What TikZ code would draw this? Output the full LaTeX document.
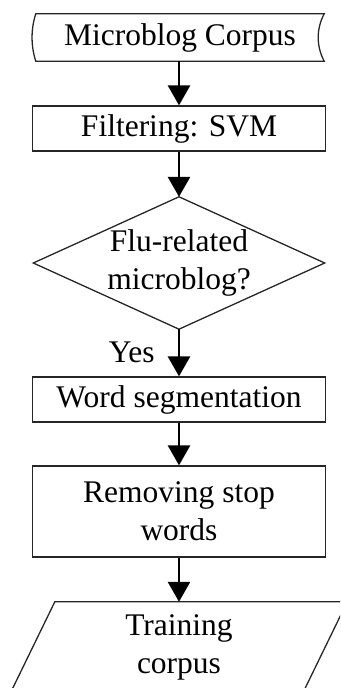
\documentclass[tikz,border=0pt]{standalone}
\usepackage{fontspec}
\setmainfont{Liberation Serif}
\usetikzlibrary{arrows.meta,calc}
\begin{document}
\begin{tikzpicture}[x=1pt,y=-1pt,
  every node/.style={font=\fontsize{31.5}{38}\selectfont, align=center, inner sep=0pt},
  outline/.style={draw=black!85, line width=1.3pt},
  box/.style={outline, minimum width=293pt},
  flow/.style={line width=2.8pt, -{Triangle[width=22pt,length=20pt]}}]
\useasboundingbox (0,0) rectangle (340,688);
\clip (0,0) rectangle (340,688);

% input data: stored-data shape with curved sides
\node (src) [minimum width=288pt, minimum height=47pt] at (180,37.5) {Microblog Corpus};
\draw[outline] (src.north west) -- (src.north east)
  .. controls ($(src.north east)+(-8,15)$) and ($(src.south east)+(-8,-15)$) .. (src.south east)
  -- (src.south west)
  .. controls ($(src.south west)+(-5,-15)$) and ($(src.north west)+(-5,15)$) .. cycle;

% processing steps
\node (svm) [box, minimum height=45pt] at (179,128.5) {Filtering: SVM};

\node (flu) [minimum width=291pt, minimum height=132pt] at (179,263) {Flu-related\\microblog?};
\draw[outline] (flu.north) -- (flu.east) -- (flu.south) -- (flu.west) -- cycle;

\node (seg) [box, minimum height=45pt] at (179,399.5) {Word segmentation};
\node (stop) [box, minimum height=91pt] at (179,511.5) {Removing stop\\words};

% output data: parallelogram
\node (train) [minimum width=292pt, minimum height=90pt] at (179,647) {Training\\corpus};
\draw[outline] ($(train.north west)+(22,0)$) -- ($(train.north east)+(22,0)$)
  -- ($(train.south east)+(-22,0)$) -- ($(train.south west)+(-22,0)$) -- cycle;

% connectors
\draw[flow] (src.south -| svm.north) -- (svm.north);
\draw[flow] (svm.south) -- (flu.north);
\draw[flow] (flu.south) -- node[anchor=east, xshift=-23pt] {Yes} (seg.north);
\draw[flow] (seg.south) -- (stop.north);
\draw[flow] (stop.south) -- (train.north);
\end{tikzpicture}
\end{document}
